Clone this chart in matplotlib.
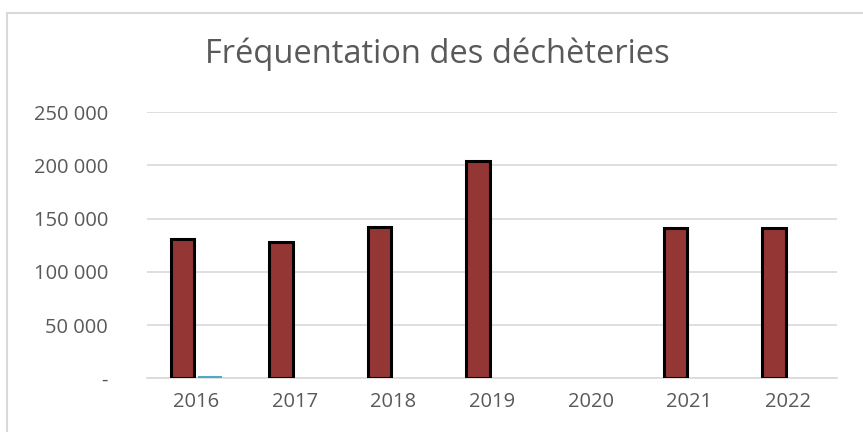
import matplotlib
matplotlib.use("Agg")
import matplotlib.pyplot as plt
import numpy as np
from matplotlib.ticker import FuncFormatter, MultipleLocator
from matplotlib.lines import Line2D

annees = ['2016', '2017', '2018', '2019', '2020', '2021', '2022']
frequentation = [130700, 127900, 142400, 203800, np.nan, 141500, 141300]
serie2 = [2200, 0, 0, 0, 0, 0, 0]

plt.rcParams['font.family'] = ['Open Sans', 'DejaVu Sans']

fig = plt.figure(figsize=(8.63, 4.32), dpi=100)
ax = fig.add_axes([0.1703, 0.1243, 0.7997, 0.6164])

x = np.arange(len(annees))
w = 0.24
ax.bar(x - 0.14, frequentation, w, color='#943634', edgecolor='black', linewidth=2.2, zorder=3)
ax.bar(x + 0.14, serie2, w, color='#4bacc6', zorder=4)

ax.set_xlim(-0.5, len(annees) - 0.5)
ax.set_ylim(0, 250000)
ax.yaxis.set_major_locator(MultipleLocator(50000))

def fmt(v, pos):
    if v == 0:
        return '-'
    return '{:,.0f}'.format(v).replace(',', ' ')

ax.yaxis.set_major_formatter(FuncFormatter(fmt))
ax.set_xticks(x)
ax.set_xticklabels(annees)
ax.grid(axis='y', color='#d9d9d9', linewidth=1.2, zorder=0)
for s in ['top', 'right', 'left']:
    ax.spines[s].set_visible(False)
ax.spines['bottom'].set_color('#d9d9d9')
ax.spines['bottom'].set_linewidth(1.2)
ax.tick_params(length=0, labelsize=14.5, colors='#595959')
ax.tick_params(axis='x', pad=10)
ax.tick_params(axis='y', pad=28)

fig.text(0.507, 0.874, 'Fréquentation des déchèteries', ha='center', va='center',
         fontsize=23.5, color='#595959')

# cadre du graphique
fig.add_artist(Line2D([7/863, 1], [1-13/432, 1-13/432], color='#d9d9d9', linewidth=1.5))
fig.add_artist(Line2D([7/863, 7/863], [0, 1-13/432], color='#d9d9d9', linewidth=1.5))

fig.savefig('out.png', dpi=100)
